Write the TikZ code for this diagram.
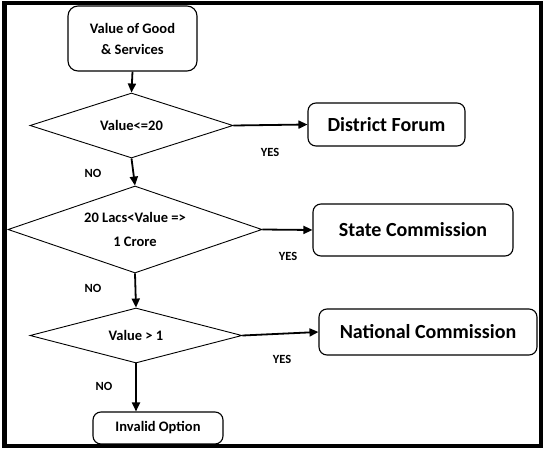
\documentclass[tikz,border=0pt]{standalone}
\usepackage{fontspec}
\setmainfont{Carlito}
\usetikzlibrary{shapes.geometric,arrows.meta}
\begin{document}
\begin{tikzpicture}[x=1pt,y=-1pt,
  box/.style={draw, line width=1.1pt, rounded corners=8pt, inner sep=0pt, align=center, font=\bfseries\fontsize{14.5}{21}\selectfont},
  bigbox/.style={box, font=\bfseries\fontsize{20}{24}\selectfont},
  dec/.style={draw, diamond, line width=0.9pt, inner sep=0pt, align=center, font=\bfseries\fontsize{14.5}{24}\selectfont},
  lab/.style={font=\bfseries\fontsize{12.5}{14}\selectfont, inner sep=0pt},
  arr/.style={line width=1.8pt, -{Triangle[length=9pt,width=8pt]}}
]
\useasboundingbox (0,0) rectangle (544,450);
\draw[line width=4.5pt] (4.5,3) rectangle (541,446);

\node[box, minimum width=129pt, minimum height=65pt, rounded corners=10pt] (start) at (132.5,38.5) {Value of Good\\\& Services};
\node[dec, aspect=3.123, minimum width=203pt, minimum height=65pt] (d1) at (131.5,125.5) {Value<=20};
\node[dec, aspect=2.92, minimum width=254pt, minimum height=87pt] (d2) at (135,229.5) {20 Lacs<Value =>\\1 Crore};
\node[dec, aspect=3.855, minimum width=212pt, minimum height=55pt] (d3) at (136,335.5) {Value > 1};

\node[bigbox, minimum width=157pt, minimum height=43pt] (df) at (386.5,124.5) {District Forum};
\node[bigbox, minimum width=200pt, minimum height=52pt] (sc) at (413,230) {State Commission};
\node[bigbox, minimum width=218pt, minimum height=46pt] (nc) at (428,332) {National Commission};
\node[box, minimum width=130pt, minimum height=32pt] (inv) at (158,428) {Invalid Option};

\draw[arr] (start.south) -- (d1.north);
\draw[arr] (d1.south) -- (d2.north);
\draw[arr] (d2.south) -- (d3.north);
\draw[arr] (d3.south) -- (d3.south |- inv.north);
\draw[arr] (d1.east) -- (df.west);
\draw[arr] (d2.east) -- (sc.west);
\draw[arr] (d3.east) -- (nc.west);

\node[lab] (yes1) at (270,152) {YES};
\node[lab] (no1) at (93,173) {NO};
\node[lab] (yes2) at (288,256) {YES};
\node[lab] (no2) at (93,288) {NO};
\node[lab] (yes3) at (282,359) {YES};
\node[lab] (no3) at (104,386) {NO};
\end{tikzpicture}
\end{document}
